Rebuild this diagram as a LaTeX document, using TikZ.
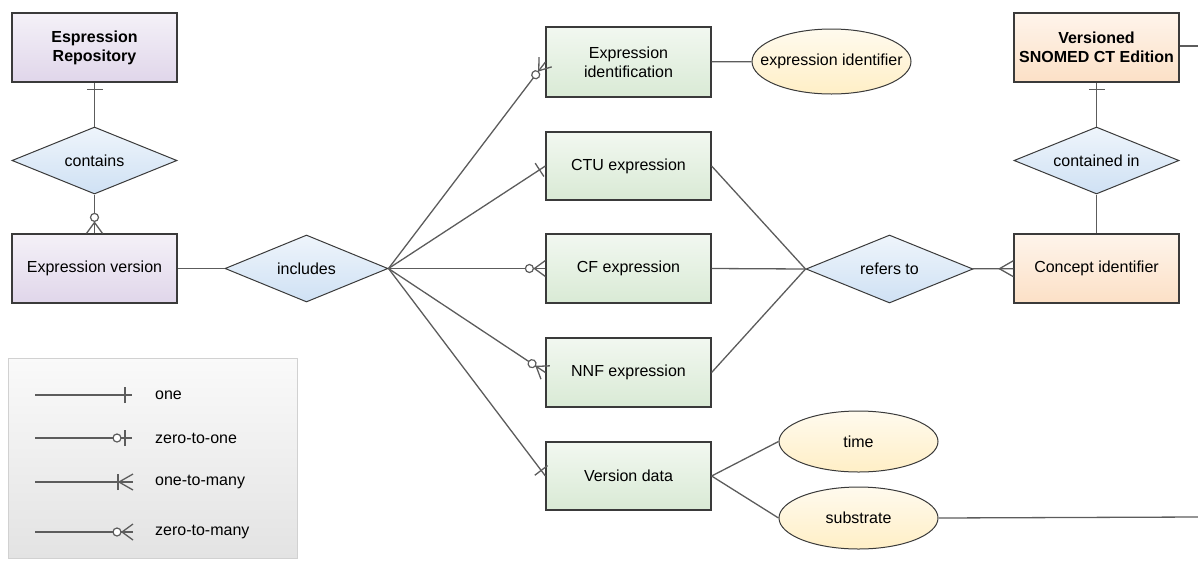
\documentclass[tikz,border=0pt]{standalone}
\usepackage{fontspec}
\setmainfont{Liberation Sans}
\usetikzlibrary{shapes.geometric,decorations.markings}
\definecolor{boxline}{HTML}{3A3A3A}
\definecolor{connline}{HTML}{5C5C5C}
\definecolor{entpurple}{HTML}{E0D6EA}
\definecolor{entgreen}{HTML}{D9EAD5}
\definecolor{entorange}{HTML}{FCE0C6}
\definecolor{relblue}{HTML}{CFE1F4}
\definecolor{attryellow}{HTML}{FFEFC6}
\begin{document}
\begin{tikzpicture}[x=1pt,y=-1pt,font=\fontsize{16}{19}\selectfont,
  entity/.style={draw=boxline, line width=1.2pt, minimum width=165pt, minimum height=69pt, inner sep=2pt, align=center},
  purplebox/.style={entity, top color=entpurple!35!white, bottom color=entpurple},
  greenbox/.style={entity, top color=entgreen!35!white, bottom color=entgreen},
  orangebox/.style={entity, top color=entorange!35!white, bottom color=entorange},
  rel/.style={diamond, aspect=2.5, draw=boxline, line width=1pt, top color=relblue!35!white, bottom color=relblue, minimum width=165pt, minimum height=67pt, inner sep=0pt},
  attr/.style={ellipse, draw=boxline, line width=1pt, top color=attryellow!30!white, bottom color=attryellow, minimum width=159pt, minimum height=63pt, inner xsep=-20pt, inner ysep=0pt},
  conn/.style={draw=connline, line width=1.3pt},
  onemark/.style={postaction={decorate,decoration={markings,mark=at position 1 with {
    \draw[connline, line width=1.3pt] (-7pt,-8pt) -- (-7pt,8pt);}}}},
  zeroonemark/.style={postaction={decorate,decoration={markings,mark=at position 1 with {
    \draw[connline, line width=1.3pt] (-7pt,-8pt) -- (-7pt,8pt);
    \draw[connline, line width=1.2pt, fill=white] (-15pt,0pt) circle (4pt);}}}},
  manymark/.style={postaction={decorate,decoration={markings,mark=at position 1 with {
    \draw[connline, line width=1.3pt] (0pt,-8pt) -- (-14pt,0pt) -- (0pt,8pt);}}}},
  onemanymark/.style={postaction={decorate,decoration={markings,mark=at position 1 with {
    \draw[connline, line width=1.3pt] (0pt,-8pt) -- (-14pt,0pt) -- (0pt,8pt);
    \draw[connline, line width=1.3pt] (-15pt,-8pt) -- (-15pt,8pt);}}}},
  zeromanymark/.style={postaction={decorate,decoration={markings,mark=at position 1 with {
    \draw[connline, line width=1.3pt] (0pt,-8pt) -- (-11pt,0pt) -- (0pt,8pt);
    \draw[connline, line width=1.2pt, fill=white] (-16pt,0pt) circle (4pt);}}}}]
  \useasboundingbox (0,0) rectangle (1198,560);

  % legend
  \node[draw=black!18, line width=0.8pt, top color=black!2, bottom color=black!11, minimum width=289pt, minimum height=200pt] (legend) at (152.5,458) {};
  \coordinate (l1s) at (35,395);
  \coordinate (l1e) at (132,395);
  \coordinate (l2s) at (35,438);
  \coordinate (l2e) at (132,438);
  \coordinate (l3s) at (35,482);
  \coordinate (l3e) at (133,482);
  \coordinate (l4s) at (35,532);
  \coordinate (l4e) at (133,532);
  \draw[conn,onemark] (l1s) -- (l1e);
  \draw[conn,zeroonemark] (l2s) -- (l2e);
  \draw[conn,onemanymark] (l3s) -- (l3e);
  \draw[conn,zeromanymark] (l4s) -- (l4e);
  \node[anchor=west, inner sep=0pt] (l1t) at (155,395) {one};
  \node[anchor=west, inner sep=0pt] (l2t) at (155,438) {zero-to-one};
  \node[anchor=west, inner sep=0pt] (l3t) at (155,482) {one-to-many};
  \node[anchor=west, inner sep=0pt] (l4t) at (155,532) {zero-to-many};

  % entities, relationships, attributes
  \node[purplebox] (repo) at (94.5,47.5) {\textbf{Espression}\\\textbf{Repository}};
  \node[rel] (contains) at (94.5,160.5) {contains};
  \node[purplebox] (exprver) at (94.5,268.5) {Expression version};
  \node[rel, minimum width=163pt] (includes) at (306.5,268.5) {includes};
  \node[greenbox, minimum height=70pt] (exprid) at (628.5,62) {Expression\\identification};
  \node[greenbox, minimum height=68pt] (ctu) at (628.5,166) {CTU expression};
  \node[greenbox] (cf) at (628.5,268.5) {CF expression};
  \node[greenbox] (nnf) at (628.5,372.5) {NNF expression};
  \node[greenbox, minimum height=68pt] (verdata) at (628.5,476) {Version data};
  \node[attr, minimum height=65pt] (exprident) at (831.5,61.5) {expression identifier};
  \node[attr, minimum height=61pt] (time) at (858.5,441.5) {time};
  \node[attr, minimum height=62pt] (substrate) at (858.5,518) {substrate};
  \node[rel, minimum width=167pt, minimum height=68pt] (refers) at (889.5,269) {refers to};
  \node[orangebox] (concept) at (1096.5,268.5) {Concept identifier};
  \node[orangebox] (versioned) at (1096.5,47.5) {\textbf{Versioned}\\\textbf{SNOMED CT Edition}};
  \node[rel] (containedin) at (1096.5,160.5) {contained in};
  \coordinate (edgetop) at (1198,46);
  \coordinate (edgebot) at (1198,517);

  % connectors
  \draw[conn,onemark] (contains) -- (repo);
  \draw[conn,zeromanymark] (contains) -- (exprver);
  \draw[conn] (exprver) -- (includes);
  \draw[conn,zeromanymark] (includes.east) -- (exprid.west);
  \draw[conn,onemark] (includes.east) -- (ctu.west);
  \draw[conn,zeromanymark] (includes.east) -- (cf.west);
  \draw[conn,zeromanymark] (includes.east) -- (nnf.west);
  \draw[conn,onemark] (includes.east) -- (verdata.west);
  \draw[conn] (exprid) -- (exprident);
  \draw[conn] (ctu.east) -- (refers.west);
  \draw[conn] (cf.east) -- (refers.west);
  \draw[conn] (nnf.east) -- (refers.west);
  \draw[conn,manymark] (refers) -- (concept);
  \draw[conn] (containedin) -- (concept);
  \draw[conn,onemark] (containedin) -- (versioned);
  \draw[conn] (versioned.east |- edgetop) -- (edgetop);
  \draw[conn] (verdata.east) -- (time.west);
  \draw[conn] (verdata.east) -- (substrate.west);
  \draw[conn] (substrate.east) -- (edgebot);
\end{tikzpicture}
\end{document}
